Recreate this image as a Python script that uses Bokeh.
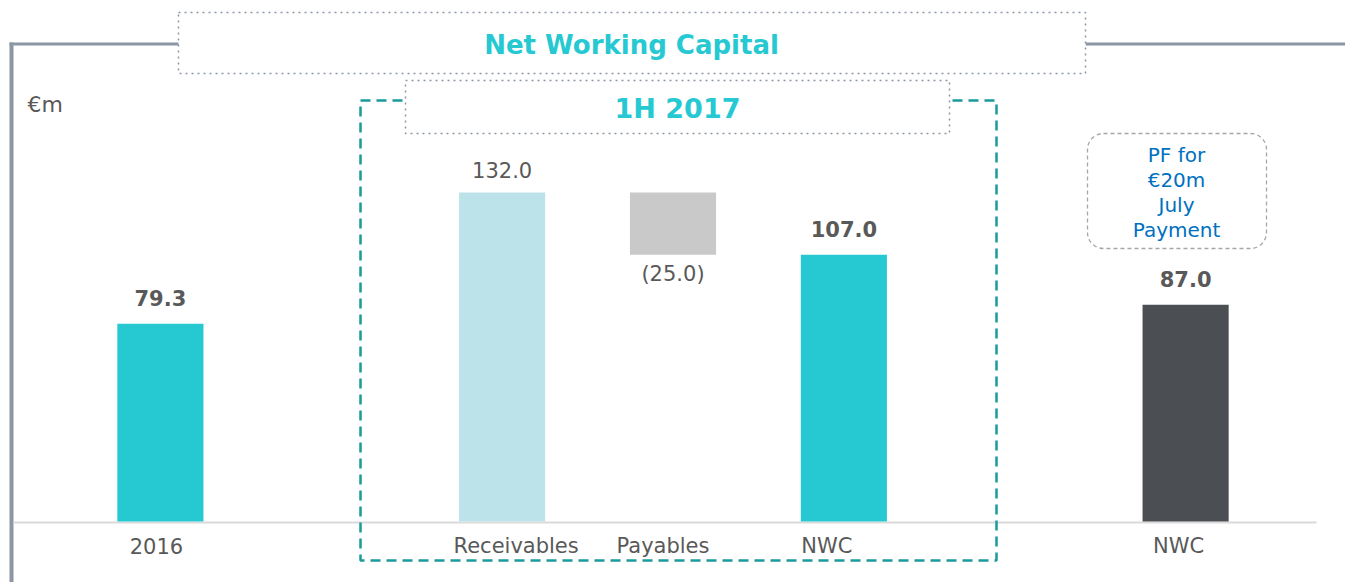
from bokeh.plotting import figure
from bokeh.models import FactorRange, Range1d, BoxAnnotation, Label, ColumnDataSource
from bokeh.core.properties import value
from bokeh.embed import file_html
from bokeh.resources import INLINE

# ---------------- data ----------------
slot_ids = ["2016", "gap_a", "Receivables", "Payables", "NWC_1H", "gap_b", "NWC_PF"]
bar_ids = ["2016", "Receivables", "Payables", "NWC_1H", "NWC_PF"]
categories = ["2016", "Receivables", "Payables", "NWC", "NWC"]
values = [79.3, 132.0, -25.0, 107.0, 87.0]
value_labels = ["79.3", "132.0", "(25.0)", "107.0", "87.0"]
label_bold = [True, False, False, True, True]
bar_colors = ["#26C9D1", "#BDE3EA", "#C9C9C9", "#26C9D1", "#4B4E53"]
title_text = "Net Working Capital"
group_text = "1H 2017"
unit_text = "€m"
note_lines = ["PF for", "€20m", "July", "Payment"]

# layout only: small horizontal nudges of the category captions (px)
caption_nudge = [-4, 14, -10, -17, -7]

# waterfall bottoms/tops
bottoms, tops = [], []
for i, v in enumerate(values):
    if v < 0:
        prev = values[i - 1]
        bottoms.append(prev + v)
        tops.append(prev)
    else:
        bottoms.append(0.0)
        tops.append(v)

W, H = 1345, 582
p = figure(width=W, height=H, output_backend="svg", toolbar_location=None,
           x_range=FactorRange(*slot_ids, range_padding=0.1245),
           y_range=Range1d(-24.47, 209.04), min_border=0,
           min_border_left=0, min_border_right=0, min_border_top=0, min_border_bottom=0)
p.axis.visible = False
p.grid.visible = False
p.outline_line_color = None
p.background_fill_color = "white"
p.border_fill_color = "white"

GRAY_TXT = "#595959"
TEAL = "#26C9D1"
FONT = "DejaVu Sans"


def box(l, r, t, b, **kw):
    # coordinates given from the canvas top; Bokeh screen y runs from the bottom
    kw.setdefault("fill_alpha", 1)
    kw.setdefault("line_alpha", 1)
    kw.setdefault("line_color", None)
    p.add_layout(BoxAnnotation(left=l, right=r, top=H - t, bottom=H - b,
                               left_units="screen", right_units="screen",
                               top_units="screen", bottom_units="screen",
                               level="underlay", **kw))


def label(x, y, text, **kw):
    p.add_layout(Label(x=x, y=H - y, x_units="screen", y_units="screen", text=text,
                       text_baseline="middle", text_font=FONT, **kw))


# grey frame lines
LINE_C = "#8C96A4"
box(9, 13, 42, H, fill_color=LINE_C)
box(9, 180, 42, 45, fill_color=LINE_C)
box(1085, W, 42, 45, fill_color=LINE_C)

# baseline
box(13, 1316, 521, 523, fill_color="#DADADA")

# title box
box(178, 1085, 12, 73, fill_color="white", line_color="#8C96A4", line_width=1.5, line_dash="dotted")
label(631, 44, title_text, text_align="center", text_font_style="bold",
      text_font_size="26px", text_color=TEAL)

# dashed 1H box
box(360, 996, 100, 560, fill_alpha=0, line_color="#1A9A9A", line_width=2.5, line_dash="10 6")
box(405, 949, 80, 133, fill_color="white", line_color="#8C96A4", line_width=1.5, line_dash="dotted")
label(677, 108, group_text, text_align="center", text_font_style="bold",
      text_font_size="27px", text_color=TEAL)

# unit label
label(27, 104, unit_text, text_align="left", text_font_size="22px", text_color=GRAY_TXT)

# PF note box
box(1087, 1266, 133, 248, fill_color="white", line_color="#A6A6A6", line_width=1.3,
    line_dash="4 3", border_radius=16)
for i, t in enumerate(note_lines):
    label(1176, 154 + i * 25.3, t, text_align="center", text_font_size="20px", text_color="#0070C0")

# bars
src = ColumnDataSource(dict(x=bar_ids, top=tops, bottom=bottoms, color=bar_colors))
p.vbar(x="x", top="top", bottom="bottom", width=0.504, color="color", line_color=None, source=src)

# value labels
above_b = dict(x=[], y=[], t=[])
above_n = dict(x=[], y=[], t=[])
below_n = dict(x=[], y=[], t=[])
for x, v, t, b, top, bot in zip(bar_ids, values, value_labels, label_bold, tops, bottoms):
    if v < 0:
        below_n["x"].append(x); below_n["y"].append(bot); below_n["t"].append(t)
    elif b:
        above_b["x"].append(x); above_b["y"].append(top); above_b["t"].append(t)
    else:
        above_n["x"].append(x); above_n["y"].append(top); above_n["t"].append(t)

p.text(x="x", y="y", text="t", source=ColumnDataSource(above_b), y_offset=-18,
       text_align="center", text_baseline="bottom", text_font=value(FONT), text_font_style="bold",
       text_font_size="21px", text_color=GRAY_TXT)
p.text(x="x", y="y", text="t", source=ColumnDataSource(above_n), y_offset=-15,
       text_align="center", text_baseline="bottom", text_font=value(FONT),
       text_font_size="21px", text_color=GRAY_TXT)
p.text(x="x", y="y", text="t", source=ColumnDataSource(below_n), y_offset=7,
       text_align="center", text_baseline="top", text_font=value(FONT),
       text_font_size="21px", text_color=GRAY_TXT)

# category labels
cap_src = ColumnDataSource(dict(x=bar_ids, y=[0] * len(bar_ids), t=categories, dx=caption_nudge))
p.text(x="x", y="y", text="t", x_offset="dx", source=cap_src, y_offset=24,
       text_align="center", text_baseline="middle", text_font=value(FONT),
       text_font_size="21px", text_color=GRAY_TXT)

open("out.html", "w").write(file_html(p, INLINE))
